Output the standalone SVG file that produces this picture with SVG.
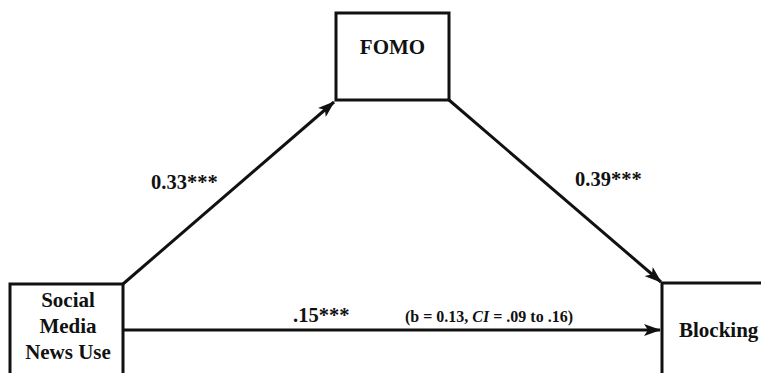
<svg xmlns="http://www.w3.org/2000/svg" width="761" height="373" viewBox="0 0 761 373">
  <style>
    .box { fill: #ffffff; stroke: #111111; stroke-width: 3; }
    .lbl { font-family: "Liberation Serif", "Times New Roman", serif; font-weight: bold; fill: #111111; }
    .node { font-size: 21px; text-anchor: middle; }
    .node-left { font-size: 21px; text-anchor: start; }
    .coef { font-size: 20.5px; }
    .note { font-size: 16px; }
    .edge { stroke: #111111; stroke-width: 3; fill: none; marker-end: url(#arrow); }
  </style>
  <defs>
    <marker id="arrow" viewBox="0 0 17 12" refX="16" refY="6" markerWidth="17" markerHeight="12" markerUnits="userSpaceOnUse" orient="auto">
      <path d="M0,0 L17,6 L0,12 L4,6 Z" fill="#111111"/>
    </marker>
  </defs>
  <rect width="761" height="373" fill="#ffffff"/>

  <g id="connectors">
    <line class="edge" x1="123" y1="284" x2="334" y2="102"/>
    <line class="edge" x1="449" y1="100" x2="661" y2="282"/>
    <line class="edge" x1="124" y1="330" x2="660" y2="330"/>
    <text class="lbl coef" x="151" y="189">0.33***</text>
    <text class="lbl coef" x="575" y="186">0.39***</text>
    <text class="lbl coef" x="293" y="322">.15***</text>
    <text class="lbl note" x="405" y="322">(b = 0.13, <tspan font-style="italic">CI</tspan> = .09 to .16)</text>
  </g>

  <g id="social-media-news-use">
    <rect class="box" x="10" y="284" width="113" height="100"/>
    <text class="lbl node" x="68" y="307">Social</text>
    <text class="lbl node" x="68" y="333">Media</text>
    <text class="lbl node" x="68" y="359">News Use</text>
  </g>

  <g id="fomo">
    <rect class="box" x="336" y="13" width="113" height="87"/>
    <text class="lbl node" x="392.5" y="54">FOMO</text>
  </g>

  <g id="blocking">
    <rect class="box" x="662" y="283" width="113" height="100"/>
    <text class="lbl node-left" x="679" y="337">Blocking</text>
  </g>
</svg>
